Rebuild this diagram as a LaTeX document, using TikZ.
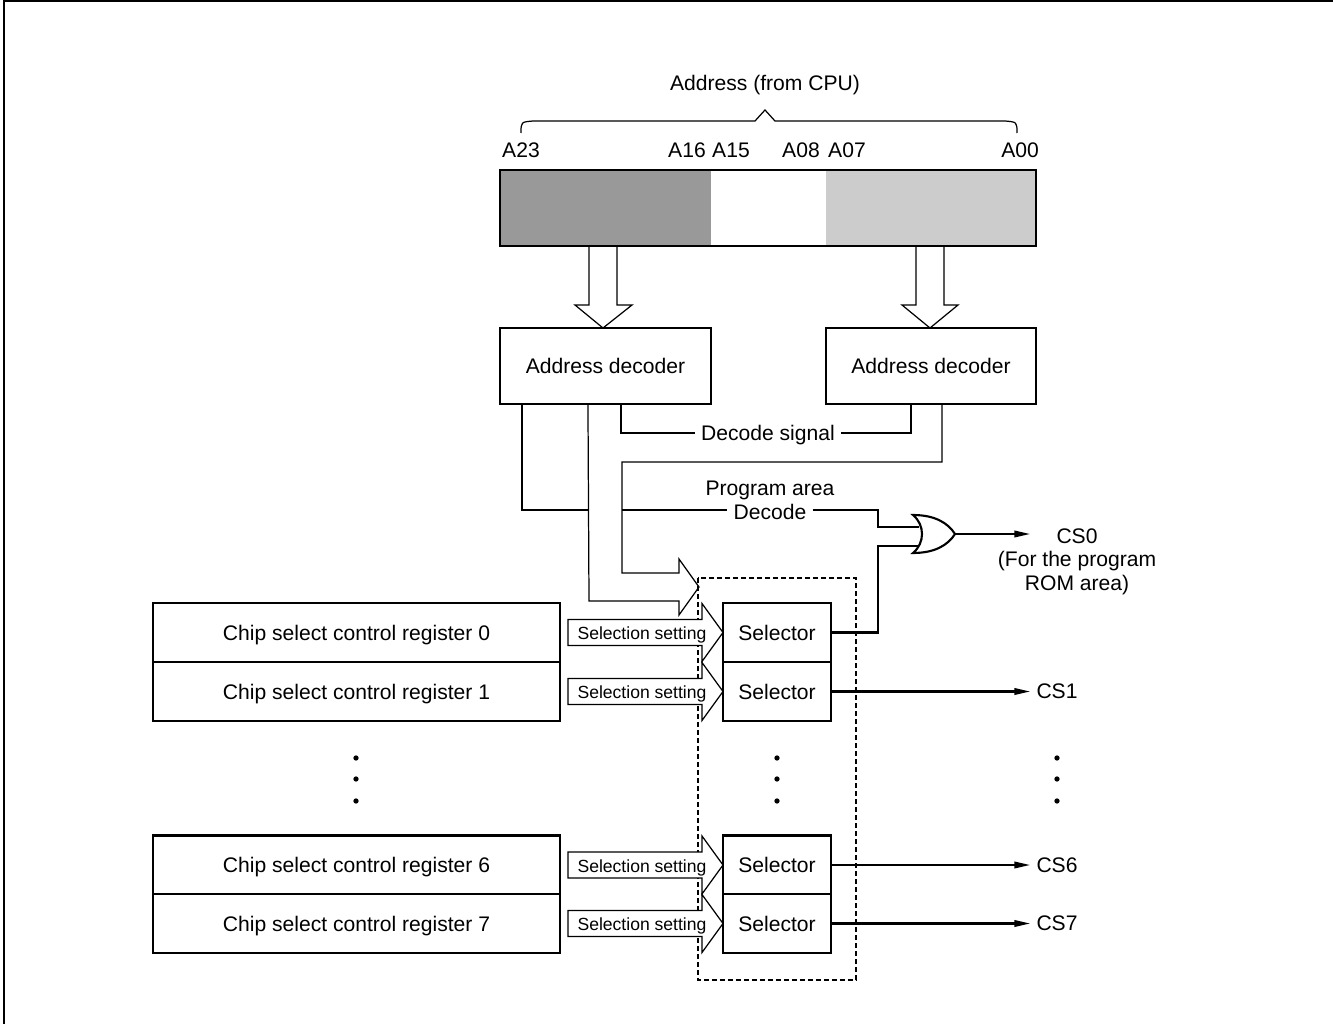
\documentclass[tikz,border=0pt]{standalone}
\usepackage{fontspec}
\setmainfont{Liberation Sans}
\usetikzlibrary{calc,arrows.meta}
\begin{document}
\begin{tikzpicture}[x=0.02cm,y=-0.02cm,font=\fontsize{12}{14}\selectfont]
    \tikzstyle{blk}=[draw, fill=white, line width=1.2pt, inner sep=0pt, text depth=0pt, minimum height=1.18cm]
    \tikzstyle{thk}=[line width=1.2pt]
    \tikzstyle{thn}=[line width=0.7pt]
    \tikzstyle{sig}=[line width=1.2pt, -{Triangle[length=0.32cm,width=0.13cm]}]
    \tikzstyle{setlbl}=[inner sep=0pt, text depth=0pt, font=\fontsize{10}{12}\selectfont]
    \tikzstyle{dot}=[circle, fill=black, inner sep=0pt, minimum size=3pt]
    \useasboundingbox (0,0) rectangle (1333,1024);
    \draw[line width=1.2pt] (4,1024) -- (4,1) -- (1333,1);
    % address from the CPU
    \node (addr) at (765,85) {Address (from CPU)};
    \draw[thn] (521,133) .. controls (521,122) .. (533,121) -- (755,121) -- (765,110) -- (775,121) -- (1005,121) .. controls (1017,122) .. (1017,133);
    \node (a23) at (521,150) {A23};
    \node (a16) at (687,150) {A16};
    \node (a15) at (731,150) {A15};
    \node (a08) at (801,150) {A08};
    \node (a07) at (847,150) {A07};
    \node (a00) at (1020,150) {A00};
    \fill[black!40] (500,170) rectangle (711,246);
    \fill[black!20] (826,170) rectangle (1036,246);
    \node[draw, line width=1.2pt, inner sep=0pt, minimum width=10.72cm, minimum height=1.52cm] (bar) at (768,208) {};
    % decoders
    \draw[thn, fill=white] (589,247) -- (589,305) -- (575,305) -- (603,328) -- (632,305) -- (617,305) -- (617,247);
    \draw[thn, fill=white] (916,247) -- (916,305) -- (902,305) -- (930,328) -- (958,305) -- (944,305) -- (944,247);
    \node[blk, minimum width=4.22cm, minimum height=1.52cm] (dec1) at (605.5,366) {Address decoder};
    \node[blk, minimum width=4.2cm, minimum height=1.52cm] (dec2) at (931,366) {Address decoder};
    \node[text depth=0pt] (decsig) at (768,433) {Decode signal};
    \draw[thn] ($(dec1.south west)+(122,0)$) |- (decsig.west);
    \draw[thn] (decsig.east) -| ($(dec2.south west)+(86,0)$);
    \draw[dashed, thn, dash pattern=on 0.1cm off 0.06cm] (698,578) rectangle (856,980);
    \draw[thn] ($(dec2.south west)+(117,0)$) |- (622,462) -- (622,573) -- (679,573) -- (679,559) -- (699,587) -- (679,615) -- (679,601) -- (589,601) -- ($(dec1.south west)+(89,0)$);
    \draw[thk] ($(dec1.south west)+(23,0)$) |- (589,510);
    \node[text depth=0pt] (prg) at (770,488) {Program area};
    \node[text depth=0pt] (prgdec) at (770,512) {Decode};
    \draw[thk] (622,510) -- (prgdec.west |- 0,510);
    % or gate
    \coordinate (or0in1) at (919,527);
    \coordinate (or0in2) at (919,546);
    \coordinate (or0out) at (955,534);
    \draw[thk] (913,515) .. controls (925,525) and (925,543) .. (913,553) .. controls (935,553) and (948,545) .. (or0out) .. controls (948,523) and (935,515) .. cycle;
    \draw[thk] (prgdec.east |- 0,510) -| (878,527) -- (or0in1);
    \node[text depth=0pt] (cs0) at (1077,536) {CS0};
    \node[align=center, font=\fontsize{12}{13.4}\selectfont] (cs0note) at (1077,573) {(For the program\\ROM area)};
    \draw[sig] (or0out) -- ($(cs0.west |- or0out)+(-20,0)$);
    % registers and selectors
    \node[blk, minimum width=8.14cm] (reg0) at (356.5,632.5) {Chip select control register 0};
    \node[blk, minimum width=8.14cm] (reg1) at (356.5,691.5) {Chip select control register 1};
    \node[blk, minimum width=8.14cm] (reg6) at (356.5,865) {Chip select control register 6};
    \node[blk, minimum width=8.14cm] (reg7) at (356.5,923.5) {Chip select control register 7};
    \foreach \c in {632.5,691.5,865,923.5}
      \draw[thn, fill=white] (568,\c-13) -- (702,\c-13) -- (702,\c-29) -- (723,\c) -- (702,\c+29) -- (702,\c+13) -- (568,\c+13) -- cycle;
    \node[setlbl] (set0) at (642,633.5) {Selection setting};
    \node[setlbl] (set1) at (642,692.5) {Selection setting};
    \node[setlbl] (set6) at (642,866) {Selection setting};
    \node[setlbl] (set7) at (642,924.5) {Selection setting};
    \node[blk, minimum width=2.16cm] (sel0) at (777,632.5) {Selector};
    \node[blk, minimum width=2.16cm] (sel1) at (777,691.5) {Selector};
    \node[blk, minimum width=2.16cm] (sel6) at (777,865) {Selector};
    \node[blk, minimum width=2.16cm] (sel7) at (777,923.5) {Selector};
    \draw[thk] (sel0.east) -| (878,546) -- (or0in2);
    \node[text depth=0pt] (cs1) at (1057,691.5) {CS1};
    \node[text depth=0pt] (cs6) at (1057,865) {CS6};
    \node[text depth=0pt] (cs7) at (1057,923.5) {CS7};
    \draw[sig] (sel1.east) -- (cs1.west);
    \draw[sig] (sel6.east) -- (cs6.west);
    \draw[sig] (sel7.east) -- (cs7.west);
    % dots
    \node[dot] (rd1) at (356,758) {};
    \node[dot] (rd2) at (356,779) {};
    \node[dot] (rd3) at (356,801) {};
    \node[dot] (sd1) at (777,758) {};
    \node[dot] (sd2) at (777,779) {};
    \node[dot] (sd3) at (777,801) {};
    \node[dot] (cd1) at (1057,758) {};
    \node[dot] (cd2) at (1057,779) {};
    \node[dot] (cd3) at (1057,801) {};
\end{tikzpicture}
\end{document}
